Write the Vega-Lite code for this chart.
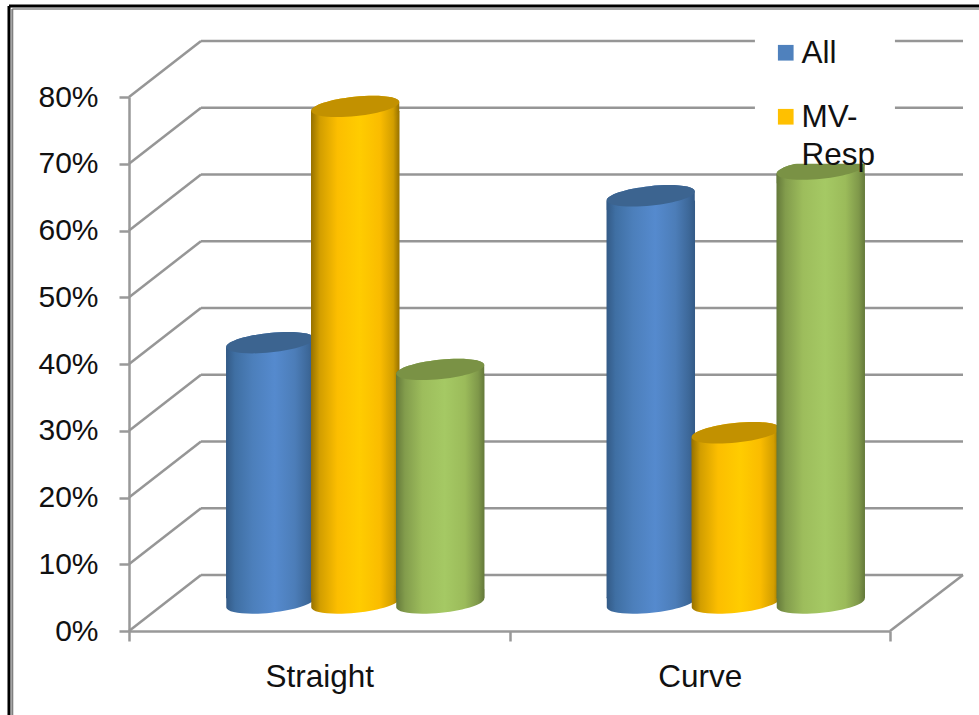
{
  "$schema": "https://vega.github.io/schema/vega-lite/v6.json",
  "width": 761,
  "height": 534,
  "autosize": "none",
  "padding": {"left": 129, "top": 97, "right": 89, "bottom": 84},
  "background": "white",
  "config": {"view": {"stroke": null}, "font": "Liberation Sans"},
  "datasets": {
    "bars": [
      {"category": "Straight", "series": "All", "value": 39},
      {"category": "Straight", "series": "MV-Resp", "value": 74.4},
      {"category": "Straight", "series": "Series 3", "value": 35},
      {"category": "Curve", "series": "All", "value": 61},
      {"category": "Curve", "series": "MV-Resp", "value": 25.5},
      {"category": "Curve", "series": "Series 3", "value": 65}
    ],
    "grid": [
      {"level": 0, "backLevel": 8.39},
      {"level": 10, "backLevel": 18.39},
      {"level": 20, "backLevel": 28.39},
      {"level": 30, "backLevel": 38.39},
      {"level": 40, "backLevel": 48.39},
      {"level": 50, "backLevel": 58.39},
      {"level": 60, "backLevel": 68.39},
      {"level": 70, "backLevel": 78.39},
      {"level": 80, "backLevel": 88.39}
    ]
  },
  "data": {"name": "bars"},
  "resolve": {"scale": {"x": "independent", "y": "independent", "xOffset": "independent", "color": "independent"}},
  "layer": [
    {
      "description": "Back wall lines",
      "data": {"name": "grid"},
      "mark": {"type": "rule", "color": "#969696", "strokeWidth": 2.5},
      "encoding": {
        "x": {"datum": 0, "type": "quantitative", "scale": {"domain": [0, 2], "range": [72, 834]}, "axis": null},
        "x2": {"datum": 2},
        "y": {"field": "level", "type": "quantitative", "scale": {"domain": [0, 80], "range": [478, -56]}, "axis": null}
      }
    },
    {
      "description": "Side wall diagonals",
      "data": {"name": "grid"},
      "mark": {"type": "rule", "color": "#969696", "strokeWidth": 2.5},
      "encoding": {
        "x": {"datum": 0, "type": "quantitative", "scale": {"domain": [0, 1], "range": [0, 72]}, "axis": null},
        "x2": {"datum": 1},
        "y": {"field": "level", "type": "quantitative", "scale": {"domain": [0, 80], "range": [534, 0]}, "axis": null},
        "y2": {"field": "backLevel"}
      }
    },
    {
      "description": "Right edge of the floor",
      "data": {"values": [{"edge": "floor"}]},
      "mark": {"type": "rule", "color": "#969696", "strokeWidth": 2.5},
      "encoding": {
        "x": {"datum": 0, "type": "quantitative", "scale": {"domain": [0, 1], "range": [761, 834]}, "axis": null},
        "x2": {"datum": 1},
        "y": {"datum": 0, "type": "quantitative", "scale": {"domain": [0, 80], "range": [534, 0]}, "axis": null},
        "y2": {"datum": 8.39}
      }
    },
    {
      "description": "Front axes and the legend carrier",
      "mark": {"type": "point", "filled": true, "opacity": 0},
      "encoding": {
        "x": {
          "field": "category", "type": "nominal",
          "scale": {"domain": ["Straight", "Curve"], "paddingInner": 0, "paddingOuter": 0},
          "axis": {"title": null, "orient": "bottom", "labelAngle": 0, "tickBand": "extent", "grid": false, "domainColor": "#999999", "domainWidth": 2.5, "tickColor": "#999999", "tickWidth": 2.5, "tickSize": 10, "labelFontSize": 31.5, "labelColor": "#111111", "labelPadding": 20, "labelFont": "Liberation Sans"}
        },
        "y": {
          "field": "value", "type": "quantitative",
          "scale": {"domain": [0, 80]},
          "axis": {"title": null, "orient": "left", "values": [0, 10, 20, 30, 40, 50, 60, 70, 80], "labelExpr": "datum.value + '%'", "grid": false, "domainColor": "#999999", "domainWidth": 2.5, "tickColor": "#999999", "tickWidth": 2.5, "tickSize": 10, "labelFontSize": 30, "labelColor": "#111111", "labelPadding": 21, "labelFont": "Liberation Sans"}
        },
        "color": {
          "field": "series", "type": "nominal",
          "scale": {"domain": ["All", "MV-Resp", "Series 3"], "range": ["#4f81bd", "#ffc000", "#9bbb59"]},
          "legend": {
            "title": null, "orient": "none", "legendX": 641, "legendY": -60, "values": ["All", "MV-Resp"],
            "symbolType": "square", "symbolSize": 246, "symbolStrokeWidth": 0,
            "labelFontSize": 31.5, "labelColor": "#111111", "labelFont": "Liberation Sans", "labelOffset": 0,
            "labelBaseline": "alphabetic",
            "labelExpr": "datum.label == 'MV-Resp' ? ['MV-', 'Resp'] : datum.label",
            "rowPadding": 31, "padding": 0, "zindex": 5,
            "encoding": {
              "symbols": {"opacity": {"value": 1}},
              "labels": {"lineHeight": {"value": 38}, "dy": {"value": 10}}
            }
          }
        }
      }
    },
    {
      "description": "First series cylinders",
      "transform": [{"filter": "datum.series == 'All'"}],
      "encoding": {
        "x": {"field": "category", "type": "nominal", "scale": {"domain": ["Straight", "Curve"], "range": [36, 797], "paddingInner": 0.33, "paddingOuter": 0.165}, "axis": null},
        "xOffset": {"field": "series", "type": "nominal", "scale": {"domain": ["All", "MV-Resp", "Series 3"]}}
      },
      "layer": [
        {
          "mark": {"type": "bar", "width": 88.5, "yOffset": 4.65, "fill": {"gradient": "linear", "x1": 0, "x2": 1, "y1": 0, "y2": 0, "stops": [{"offset": 0, "color": "#335a86"}, {"offset": 0.1, "color": "#3f6fa3"}, {"offset": 0.3, "color": "#4c7fbb"}, {"offset": 0.55, "color": "#558ace"}, {"offset": 0.78, "color": "#4c7db8"}, {"offset": 0.93, "color": "#3d6899"}, {"offset": 1, "color": "#335a86"}]}},
          "encoding": {"y": {"field": "value", "type": "quantitative", "stack": null, "scale": {"domain": [0, 80], "range": [506, -28]}, "axis": null}, "y2": {"datum": 0.7}}
        },
        {
          "mark": {"type": "point", "filled": true, "opacity": 1, "size": 7832, "shape": "M-.9945,-.1045 C-1.0072,-.2253,-.5723,-.3701,-.023,-.4278 C.5263,-.4855,.9818,-.4343,.9945,-.3135 L.9945,-.1045 C1.0072,.0163,.5723,.1611,.023,.2188 C-.5263,.2765,-.9818,.2253,-.9945,.1045 Z", "fill": {"gradient": "linear", "x1": 0, "x2": 1, "y1": 0, "y2": 0, "stops": [{"offset": 0, "color": "#335a86"}, {"offset": 0.1, "color": "#3f6fa3"}, {"offset": 0.3, "color": "#4c7fbb"}, {"offset": 0.55, "color": "#558ace"}, {"offset": 0.78, "color": "#4c7db8"}, {"offset": 0.93, "color": "#3d6899"}, {"offset": 1, "color": "#335a86"}]}},
          "encoding": {"y": {"datum": 0, "type": "quantitative", "scale": {"domain": [0, 80], "range": [506, -28]}, "axis": null}}
        },
        {
          "mark": {"type": "point", "filled": true, "opacity": 1, "size": 7832, "shape": "M-.9945,.1045 C-1.0072,-.0163,-.5723,-.1611,-.023,-.2188 C.5263,-.2765,.9818,-.2253,.9945,-.1045 L.9945,.1045 C1.0072,.2253,.5723,.3701,.023,.4278 C-.5263,.4855,-.9818,.4343,-.9945,.3135 Z", "fill": {"gradient": "linear", "x1": 0, "x2": 1, "y1": 0, "y2": 0, "stops": [{"offset": 0, "color": "#335a86"}, {"offset": 0.1, "color": "#3f6fa3"}, {"offset": 0.3, "color": "#4c7fbb"}, {"offset": 0.55, "color": "#558ace"}, {"offset": 0.78, "color": "#4c7db8"}, {"offset": 0.93, "color": "#3d6899"}, {"offset": 1, "color": "#335a86"}]}},
          "encoding": {"y": {"field": "value", "type": "quantitative", "stack": null, "scale": {"domain": [0, 80], "range": [506, -28]}, "axis": null}}
        },
        {
          "mark": {"type": "point", "filled": true, "opacity": 1, "size": 7832, "fill": "#3c6490", "shape": "M.9945,-.1045 C1.0072,.0163,.5723,.1611,.023,.2188 C-.5263,.2765,-.9818,.2253,-.9945,.1045 C-1.0072,-.0163,-.5723,-.1611,-.023,-.2188 C.5263,-.2765,.9818,-.2253,.9945,-.1045 Z"},
          "encoding": {"y": {"field": "value", "type": "quantitative", "stack": null, "scale": {"domain": [0, 80], "range": [506, -28]}, "axis": null}}
        }
      ]
    },
    {
      "description": "Second series cylinders",
      "transform": [{"filter": "datum.series == 'MV-Resp'"}],
      "encoding": {
        "x": {"field": "category", "type": "nominal", "scale": {"domain": ["Straight", "Curve"], "range": [36, 797], "paddingInner": 0.33, "paddingOuter": 0.165}, "axis": null},
        "xOffset": {"field": "series", "type": "nominal", "scale": {"domain": ["All", "MV-Resp", "Series 3"]}}
      },
      "layer": [
        {
          "mark": {"type": "bar", "width": 88.5, "yOffset": 4.65, "fill": {"gradient": "linear", "x1": 0, "x2": 1, "y1": 0, "y2": 0, "stops": [{"offset": 0, "color": "#967100"}, {"offset": 0.1, "color": "#d29e00"}, {"offset": 0.3, "color": "#fcbe00"}, {"offset": 0.55, "color": "#ffcc00"}, {"offset": 0.78, "color": "#fabc00"}, {"offset": 0.93, "color": "#d29e00"}, {"offset": 1, "color": "#967100"}]}},
          "encoding": {"y": {"field": "value", "type": "quantitative", "stack": null, "scale": {"domain": [0, 80], "range": [506, -28]}, "axis": null}, "y2": {"datum": 0.7}}
        },
        {
          "mark": {"type": "point", "filled": true, "opacity": 1, "size": 7832, "shape": "M-.9945,-.1045 C-1.0072,-.2253,-.5723,-.3701,-.023,-.4278 C.5263,-.4855,.9818,-.4343,.9945,-.3135 L.9945,-.1045 C1.0072,.0163,.5723,.1611,.023,.2188 C-.5263,.2765,-.9818,.2253,-.9945,.1045 Z", "fill": {"gradient": "linear", "x1": 0, "x2": 1, "y1": 0, "y2": 0, "stops": [{"offset": 0, "color": "#967100"}, {"offset": 0.1, "color": "#d29e00"}, {"offset": 0.3, "color": "#fcbe00"}, {"offset": 0.55, "color": "#ffcc00"}, {"offset": 0.78, "color": "#fabc00"}, {"offset": 0.93, "color": "#d29e00"}, {"offset": 1, "color": "#967100"}]}},
          "encoding": {"y": {"datum": 0, "type": "quantitative", "scale": {"domain": [0, 80], "range": [506, -28]}, "axis": null}}
        },
        {
          "mark": {"type": "point", "filled": true, "opacity": 1, "size": 7832, "shape": "M-.9945,.1045 C-1.0072,-.0163,-.5723,-.1611,-.023,-.2188 C.5263,-.2765,.9818,-.2253,.9945,-.1045 L.9945,.1045 C1.0072,.2253,.5723,.3701,.023,.4278 C-.5263,.4855,-.9818,.4343,-.9945,.3135 Z", "fill": {"gradient": "linear", "x1": 0, "x2": 1, "y1": 0, "y2": 0, "stops": [{"offset": 0, "color": "#967100"}, {"offset": 0.1, "color": "#d29e00"}, {"offset": 0.3, "color": "#fcbe00"}, {"offset": 0.55, "color": "#ffcc00"}, {"offset": 0.78, "color": "#fabc00"}, {"offset": 0.93, "color": "#d29e00"}, {"offset": 1, "color": "#967100"}]}},
          "encoding": {"y": {"field": "value", "type": "quantitative", "stack": null, "scale": {"domain": [0, 80], "range": [506, -28]}, "axis": null}}
        },
        {
          "mark": {"type": "point", "filled": true, "opacity": 1, "size": 7832, "fill": "#c29100", "shape": "M.9945,-.1045 C1.0072,.0163,.5723,.1611,.023,.2188 C-.5263,.2765,-.9818,.2253,-.9945,.1045 C-1.0072,-.0163,-.5723,-.1611,-.023,-.2188 C.5263,-.2765,.9818,-.2253,.9945,-.1045 Z"},
          "encoding": {"y": {"field": "value", "type": "quantitative", "stack": null, "scale": {"domain": [0, 80], "range": [506, -28]}, "axis": null}}
        }
      ]
    },
    {
      "description": "Third series cylinders",
      "transform": [{"filter": "datum.series == 'Series 3'"}],
      "encoding": {
        "x": {"field": "category", "type": "nominal", "scale": {"domain": ["Straight", "Curve"], "range": [36, 797], "paddingInner": 0.33, "paddingOuter": 0.165}, "axis": null},
        "xOffset": {"field": "series", "type": "nominal", "scale": {"domain": ["All", "MV-Resp", "Series 3"]}}
      },
      "layer": [
        {
          "mark": {"type": "bar", "width": 88.5, "yOffset": 4.65, "fill": {"gradient": "linear", "x1": 0, "x2": 1, "y1": 0, "y2": 0, "stops": [{"offset": 0, "color": "#64793a"}, {"offset": 0.1, "color": "#829c4c"}, {"offset": 0.3, "color": "#9dbd5c"}, {"offset": 0.55, "color": "#a5c964"}, {"offset": 0.78, "color": "#9bbb5a"}, {"offset": 0.93, "color": "#7f984a"}, {"offset": 1, "color": "#64793a"}]}},
          "encoding": {"y": {"field": "value", "type": "quantitative", "stack": null, "scale": {"domain": [0, 80], "range": [506, -28]}, "axis": null}, "y2": {"datum": 0.7}}
        },
        {
          "mark": {"type": "point", "filled": true, "opacity": 1, "size": 7832, "shape": "M-.9945,-.1045 C-1.0072,-.2253,-.5723,-.3701,-.023,-.4278 C.5263,-.4855,.9818,-.4343,.9945,-.3135 L.9945,-.1045 C1.0072,.0163,.5723,.1611,.023,.2188 C-.5263,.2765,-.9818,.2253,-.9945,.1045 Z", "fill": {"gradient": "linear", "x1": 0, "x2": 1, "y1": 0, "y2": 0, "stops": [{"offset": 0, "color": "#64793a"}, {"offset": 0.1, "color": "#829c4c"}, {"offset": 0.3, "color": "#9dbd5c"}, {"offset": 0.55, "color": "#a5c964"}, {"offset": 0.78, "color": "#9bbb5a"}, {"offset": 0.93, "color": "#7f984a"}, {"offset": 1, "color": "#64793a"}]}},
          "encoding": {"y": {"datum": 0, "type": "quantitative", "scale": {"domain": [0, 80], "range": [506, -28]}, "axis": null}}
        },
        {
          "mark": {"type": "point", "filled": true, "opacity": 1, "size": 7832, "shape": "M-.9945,.1045 C-1.0072,-.0163,-.5723,-.1611,-.023,-.2188 C.5263,-.2765,.9818,-.2253,.9945,-.1045 L.9945,.1045 C1.0072,.2253,.5723,.3701,.023,.4278 C-.5263,.4855,-.9818,.4343,-.9945,.3135 Z", "fill": {"gradient": "linear", "x1": 0, "x2": 1, "y1": 0, "y2": 0, "stops": [{"offset": 0, "color": "#64793a"}, {"offset": 0.1, "color": "#829c4c"}, {"offset": 0.3, "color": "#9dbd5c"}, {"offset": 0.55, "color": "#a5c964"}, {"offset": 0.78, "color": "#9bbb5a"}, {"offset": 0.93, "color": "#7f984a"}, {"offset": 1, "color": "#64793a"}]}},
          "encoding": {"y": {"field": "value", "type": "quantitative", "stack": null, "scale": {"domain": [0, 80], "range": [506, -28]}, "axis": null}}
        },
        {
          "mark": {"type": "point", "filled": true, "opacity": 1, "size": 7832, "fill": "#7a9245", "shape": "M.9945,-.1045 C1.0072,.0163,.5723,.1611,.023,.2188 C-.5263,.2765,-.9818,.2253,-.9945,.1045 C-1.0072,-.0163,-.5723,-.1611,-.023,-.2188 C.5263,-.2765,.9818,-.2253,.9945,-.1045 Z"},
          "encoding": {"y": {"field": "value", "type": "quantitative", "stack": null, "scale": {"domain": [0, 80], "range": [506, -28]}, "axis": null}}
        }
      ]
    },
    {
      "description": "White panel behind the legend",
      "data": {"values": [{"panel": "legend"}]},
      "mark": {"type": "rect", "fill": "white"},
      "encoding": {
        "x": {"datum": 1.645, "type": "quantitative", "scale": {"domain": [0, 2], "range": [0, 761]}, "axis": null},
        "x2": {"datum": 2.013},
        "y": {"datum": 90, "type": "quantitative", "scale": {"domain": [0, 80], "range": [534, 0]}, "axis": null},
        "y2": {"datum": 70}
      }
    },
    {
      "description": "Outer frame, black line",
      "data": {"values": [{"frame": "top"}]},
      "mark": {"type": "rule", "color": "#000000", "strokeWidth": 3},
      "encoding": {
        "x": {"datum": -0.3154, "type": "quantitative", "scale": {"domain": [0, 2], "range": [0, 761]}, "axis": null},
        "x2": {"datum": 2.24},
        "y": {"datum": 93.63, "type": "quantitative", "scale": {"domain": [0, 80], "range": [534, 0]}, "axis": null}
      }
    },
    {
      "description": "Outer frame, black line on the left",
      "data": {"values": [{"frame": "left"}]},
      "mark": {"type": "rule", "color": "#000000", "strokeWidth": 3},
      "encoding": {
        "x": {"datum": -0.3154, "type": "quantitative", "scale": {"domain": [0, 2], "range": [0, 761]}, "axis": null},
        "y": {"datum": 93.63, "type": "quantitative", "scale": {"domain": [0, 80], "range": [534, 0]}, "axis": null},
        "y2": {"datum": -13}
      }
    },
    {
      "description": "Inner frame, grey line",
      "data": {"values": [{"frame": "top"}]},
      "mark": {"type": "rule", "color": "#a6a6a6", "strokeWidth": 2},
      "encoding": {
        "x": {"datum": -0.3067, "type": "quantitative", "scale": {"domain": [0, 2], "range": [0, 761]}, "axis": null},
        "x2": {"datum": 2.24},
        "y": {"datum": 93.2, "type": "quantitative", "scale": {"domain": [0, 80], "range": [534, 0]}, "axis": null}
      }
    },
    {
      "description": "Inner frame, grey line on the left",
      "data": {"values": [{"frame": "left"}]},
      "mark": {"type": "rule", "color": "#808080", "strokeWidth": 2},
      "encoding": {
        "x": {"datum": -0.3067, "type": "quantitative", "scale": {"domain": [0, 2], "range": [0, 761]}, "axis": null},
        "y": {"datum": 93.2, "type": "quantitative", "scale": {"domain": [0, 80], "range": [534, 0]}, "axis": null},
        "y2": {"datum": -13}
      }
    }
  ]
}
